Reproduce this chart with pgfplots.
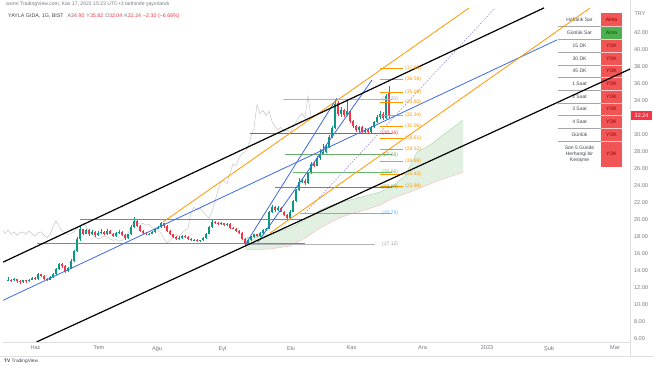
\documentclass[border=0pt]{standalone}
\usepackage{pgfplots}
\pgfplotsset{compat=1.18}
\usepackage{pgfplotstable}
\usepackage{fontspec}
\setmainfont{Liberation Sans}
\definecolor{tvup}{HTML}{089981}
\definecolor{tvdown}{HTML}{F23645}
\definecolor{tvgray}{HTML}{787B86}
\definecolor{tvdark}{HTML}{434651}
\definecolor{tvblue}{HTML}{3D6BE8}
\definecolor{tvorange}{HTML}{FF9800}
\definecolor{tvpurple}{HTML}{9C86D8}
\definecolor{cloudc}{HTML}{E2F0E2}
\definecolor{tabred}{HTML}{F25555}
\definecolor{tabgreen}{HTML}{4CAF50}
\definecolor{levgreen}{HTML}{66BB6A}
\definecolor{levteal}{HTML}{26A69A}
\definecolor{levblue}{HTML}{64B5F6}
\definecolor{levgray}{HTML}{A0A3AB}
\pgfplotstableread{
x o h l c d
8 12.9 13.3 12.8 13.0 1
11 13.0 13.1 12.7 12.9 0
14 12.9 13.2 12.8 13.1 1
17 13.1 13.1 12.6 12.8 0
20 12.8 12.9 12.5 12.7 0
23 12.7 13.0 12.6 12.9 1
26 12.9 13.0 12.6 12.8 0
29 12.8 13.1 12.7 13.0 1
32 13.0 13.3 12.9 13.2 1
35 13.2 13.3 13.0 13.1 0
38 13.1 13.8 13.0 13.6 1
41 13.6 13.7 13.3 13.4 0
44 13.4 13.5 13.0 13.1 0
47 13.1 13.2 12.8 13.0 0
50 13.0 13.4 12.9 13.3 1
53 13.3 13.8 13.2 13.6 1
56 13.6 14.4 13.5 14.2 1
59 14.2 15.0 14.1 14.8 1
62 14.8 14.9 14.4 14.6 0
65 14.6 14.7 13.8 14.0 0
68 14.0 14.5 13.9 14.3 1
71 14.3 15.4 14.2 15.2 1
74 15.2 16.5 15.1 16.3 1
77 16.3 18.0 16.2 17.8 1
80 17.8 19.4 17.5 18.9 1
83 18.9 19.0 18.2 18.4 0
86 18.4 19.0 18.3 18.8 1
89 18.8 18.9 18.1 18.3 0
92 18.3 18.8 18.2 18.6 1
95 18.6 18.7 18.0 18.2 0
98 18.2 18.7 18.1 18.5 1
101 18.5 18.9 18.3 18.6 1
104 18.6 18.7 18.2 18.3 0
107 18.3 18.9 18.2 18.7 1
110 18.7 18.8 18.3 18.4 0
113 18.4 18.5 18.0 18.1 0
116 18.1 18.6 18.0 18.5 1
119 18.5 18.8 18.4 18.6 1
122 18.6 18.7 18.1 18.2 0
125 18.2 18.3 17.7 17.9 0
128 17.9 18.4 17.8 18.3 1
131 18.3 19.4 18.2 19.2 1
134 19.2 20.4 19.1 19.9 1
137 19.9 20.1 19.2 19.3 0
140 19.3 19.4 18.6 18.7 0
143 18.7 18.8 18.3 18.5 0
146 18.5 18.6 18.2 18.3 0
149 18.3 18.5 18.2 18.4 1
152 18.4 18.7 18.3 18.6 1
155 18.6 19.1 18.5 19.0 1
158 19.0 19.3 18.9 19.2 1
161 19.2 19.8 19.1 19.6 1
164 19.6 19.7 19.1 19.3 0
167 19.3 19.4 18.6 18.7 0
170 18.7 18.8 18.2 18.3 0
173 18.3 18.4 17.9 18.0 0
176 18.0 18.1 17.7 17.8 0
179 17.8 18.1 17.7 17.9 1
182 17.9 18.2 17.8 18.1 1
185 18.1 18.2 17.9 18.0 0
188 18.0 18.1 17.7 17.8 0
191 17.8 17.9 17.5 17.6 0
194 17.6 17.8 17.5 17.7 1
197 17.7 17.8 17.4 17.5 0
200 17.5 17.7 17.4 17.6 1
203 17.6 18.0 17.5 17.9 1
206 17.9 18.5 17.8 18.4 1
209 18.4 19.3 18.3 19.2 1
212 19.2 20.0 19.1 19.8 1
215 19.8 19.9 19.5 19.7 0
218 19.7 19.8 19.4 19.5 0
221 19.5 19.8 19.4 19.6 1
224 19.6 19.7 19.3 19.4 0
227 19.4 19.6 19.3 19.5 1
230 19.5 19.6 19.0 19.1 0
233 19.1 19.2 18.9 19.0 0
236 19.0 19.1 18.6 18.7 0
239 18.7 18.8 18.4 18.5 0
242 18.5 18.6 17.6 17.8 0
245 17.8 17.9 17.12 17.3 0
248 17.3 17.7 17.2 17.6 1
251 17.6 18.1 17.5 18.0 1
254 18.0 18.4 17.9 18.3 1
257 18.3 18.4 18.0 18.1 0
260 18.1 18.6 18.0 18.5 1
263 18.5 18.9 18.4 18.8 1
266 18.8 19.1 18.7 19.0 1
269 19.0 21.1 18.9 20.9 1
272 20.9 21.8 20.8 21.5 1
275 21.5 21.6 21.0 21.2 0
278 21.2 21.6 21.1 21.4 1
281 21.4 21.5 20.9 21.0 0
284 21.0 21.1 20.5 20.6 0
287 20.6 20.7 19.9 20.2 0
290 20.2 21.2 20.1 21.0 1
293 21.0 22.4 20.9 22.2 1
296 22.2 23.7 22.1 23.5 1
299 23.5 25.0 23.4 24.5 1
302 24.5 24.9 24.3 24.6 1
305 24.6 24.8 24.1 24.3 0
308 24.3 25.7 24.2 25.5 1
311 25.5 26.8 25.4 26.6 1
314 26.6 26.9 26.2 26.4 0
317 26.4 27.5 26.3 27.3 1
320 27.3 28.3 27.1 27.8 1
323 27.8 28.9 27.6 28.0 1
326 28.0 28.9 27.9 28.6 1
329 28.6 30.0 28.5 29.8 1
332 29.8 31.1 29.7 30.8 1
335 30.8 34.2 30.7 33.6 1
338 33.8 34.0 32.2 32.5 0
341 32.5 33.3 32.1 32.9 1
344 32.9 33.1 32.1 32.3 0
347 32.3 34.1 32.2 32.8 1
350 32.8 32.9 31.4 31.6 0
353 31.6 31.8 30.8 31.0 0
356 31.0 31.2 30.4 30.6 0
359 30.6 31.1 30.4 30.9 1
362 30.9 31.0 30.2 30.4 0
365 30.4 30.8 30.2 30.6 1
368 30.6 30.7 30.16 30.3 0
371 30.3 31.0 30.2 30.9 1
374 30.9 31.7 30.8 31.5 1
377 31.5 32.3 31.4 32.1 1
380 32.1 32.8 31.9 32.5 1
383 32.5 32.7 31.8 32.0 0
386 32.0 34.8 31.9 34.6 1
389 34.90 35.82 32.04 32.24 0
}\ohlc
\begin{document}
\begin{tikzpicture}
\path[use as bounding box] (0pt,0pt) rectangle (654pt,366pt);
\fill[white] (0pt,0pt) rectangle (654pt,366pt);
% header
\node[anchor=west, inner sep=0pt, font=\fontsize{5.1}{6}\selectfont, text=tvgray] at (6pt,362pt) {asmn TradingView.com, Kas 17, 2022 15:23 UTC+3 tarihinde yayınlandı};
\node[anchor=west, inner sep=0pt, font=\fontsize{5.3}{6}\selectfont] at (8pt,350pt) {\color{tvdark}YAYLA GIDA, 1G, BIST\hspace{4pt}\color{tvgray}A\color{tvdown}34.90\hspace{2pt}\color{tvgray}Y\color{tvdown}35.82\hspace{2pt}\color{tvgray}D\color{tvdown}32.04\hspace{2pt}\color{tvgray}K\color{tvdown}32.24\hspace{2pt}−2.30 (−6.66\%)};
% footer
\node[anchor=west, inner sep=0pt, font=\fontsize{4.8}{5}\selectfont, text=tvdark] at (4pt,5pt) {\textbf{TV} TradingView};
% frame
\draw[black!12, line width=0.5pt] (630pt,10pt) -- (630pt,366pt);
\draw[black!12, line width=0.5pt] (0pt,10pt) -- (654pt,10pt);
% table
\fill[white] (558pt,199pt) rectangle (601pt,353pt);
\fill[tabred] (601pt,199pt) rectangle (622pt,353pt);
\fill[tabgreen] (601pt,327pt) rectangle (622pt,340pt);
\foreach \yy in {340,327,314,301,289,276,263,251,238,225}{
  \draw[black!35, line width=0.4pt] (558pt,\yy pt) -- (601pt,\yy pt);
  \draw[white!70!tabred, line width=0.3pt] (601pt,\yy pt) -- (622pt,\yy pt);
}
\begin{scope}[font=\fontsize{5}{6}\selectfont, text=tvdark]
\node at (579.5pt,346.5pt) {Haftalık Sar};
\node at (579.5pt,333.5pt) {Günlük Sar};
\node at (579.5pt,320.5pt) {15 DK};
\node at (579.5pt,307.5pt) {30 DK};
\node at (579.5pt,295pt) {45 DK};
\node at (579.5pt,282.5pt) {1 Saat};
\node at (579.5pt,269.5pt) {2 Saat};
\node at (579.5pt,257pt) {3 Saat};
\node at (579.5pt,244.5pt) {4 Saat};
\node at (579.5pt,231.5pt) {Günlük};
\node[align=center] at (579.5pt,212pt) {Son 5 Günde\\Herhangi bir\\Kesişme};
\end{scope}
\begin{scope}[font=\fontsize{5}{6}\selectfont, text=red!55!black]
\node at (611.5pt,346.5pt) {Alma};
\node[text=green!35!black] at (611.5pt,333.5pt) {Alma};
\foreach \yy in {320.5,307.5,295,282.5,269.5,257,244.5,231.5,212}{\node at (611.5pt,\yy pt) {YOK};}
\end{scope}
\begin{axis}[
  at={(3pt,24pt)}, anchor=south west, scale only axis,
  width=627pt, height=334pt,
  xmin=3, xmax=630, ymin=5.65, ymax=44.94,
  axis x line*=bottom, axis y line*=right,
  axis line style={draw=black!12, line width=0.5pt},
  xtick={35.5,99,157,222.6,291,351.5,422.6,487,549,615},
  xticklabels={Haz,Tem,Ağu,Eyl,Eki,Kas,Ara,2023,Şub,Mar},
  ytick={6,8,10,12,14,16,18,20,22,24,26,28,30,34,36,38,40,42},
  yticklabel pos=right,
  major tick length=0pt,
  /pgf/number format/assume math mode=true,
  yticklabel={\pgfmathprintnumber[fixed,fixed zerofill,precision=2]{\tick}},
  ticklabel style={font=\fontsize{5.6}{6}\selectfont, text=tvgray},
  xticklabel style={yshift=-0.5pt},
  yticklabel style={xshift=0.5pt},
  candle/.style={draw=none, mark=none, error bars/.cd, y dir=plus, y explicit, error mark=none},
]
% ichimoku cloud
\addplot[fill=cloudc, draw=none] coordinates {(245,17.88)(270,18.35)(290,19.06)(305,20.0)(320,21.18)(335,21.88)(350,22.35)(365,22.82)(380,23.29)(393,24.0)(405,25.18)(417,28.0)(430,28.82)(447,30.35)(463,31.76)(463,25.65)(455,25.29)(440,24.71)(425,24.0)(410,23.29)(393,22.59)(380,21.76)(365,21.18)(350,20.71)(335,20.0)(320,19.06)(305,17.88)(290,16.94)(270,16.59)(245,16.47)};
\addplot[levgreen!60, line width=0.4pt] coordinates {(245,17.88)(270,18.35)(290,19.06)(305,20.0)(320,21.18)(335,21.88)(350,22.35)(365,22.82)(380,23.29)(393,24.0)(405,25.18)(417,28.0)(430,28.82)(447,30.35)(463,31.76)};
\addplot[tvdown!35, line width=0.4pt] coordinates {(245,16.47)(270,16.59)(290,16.94)(305,17.88)(320,19.06)(335,20.0)(350,20.71)(365,21.18)(380,21.76)(393,22.59)(410,23.29)(425,24.0)(440,24.71)(455,25.29)(463,25.65)};
% lagging span
\addplot[levgray!70, line width=0.4pt] table[x expr=\thisrow{x}-78, y=c] {\ohlc};
% candles
\addplot[candle, error bar style={draw=tvup, line width=0.5pt}] table[x=x, y=l, y error plus expr={\thisrow{d}*(\thisrow{h}-\thisrow{l})}] {\ohlc};
\addplot[candle, error bar style={draw=tvdown, line width=0.5pt}] table[x=x, y=l, y error plus expr={(1-\thisrow{d})*(\thisrow{h}-\thisrow{l})}] {\ohlc};
\addplot[candle, error bar style={draw=tvup, line width=2pt}] table[x=x, y=o, y error plus expr={\thisrow{d}*(\thisrow{c}-\thisrow{o})}] {\ohlc};
\addplot[candle, error bar style={draw=tvdown, line width=2pt}] table[x=x, y=c, y error plus expr={(1-\thisrow{d})*(\thisrow{o}-\thisrow{c})}] {\ohlc};
% red range lines
\addplot[tvdown!85, line width=0.7pt] coordinates {(80,20.06)(303,20.06)};
\addplot[tvdown!85, line width=0.7pt] coordinates {(37,17.2)(305,17.2)};
% horizontal levels
\addplot[levgray!80, line width=0.5pt] coordinates {(283,34.20)(392,34.20)};
\addplot[tvdown, line width=0.6pt] coordinates {(250,30.16)(392,30.16)};
\addplot[levgreen!70!gray, line width=0.5pt] coordinates {(285,27.68)(392,27.68)};
\addplot[levgreen, line width=0.5pt] coordinates {(293,25.66)(392,25.66)};
\addplot[levteal, line width=0.5pt] coordinates {(275,23.84)(392,23.84)};
\addplot[levblue, line width=0.6pt] coordinates {(300,20.79)(392,20.79)};
\addplot[levgray!80, line width=0.5pt] coordinates {(245,17.12)(375,17.12)};
% fib ticks
\addplot[tvorange, line width=0.5pt, unbounded coords=jump] coordinates {(380,37.86)(403,37.86)(390,nan)(380,36.58)(403,36.58)(390,nan)(380,35.08)(403,35.08)(390,nan)(380,33.80)(403,33.80)(390,nan)(380,32.34)(403,32.34)(390,nan)(380,31.06)(403,31.06)(390,nan)(380,29.61)(403,29.61)(390,nan)(380,28.32)(403,28.32)(390,nan)(380,26.86)(403,26.86)(390,nan)(380,25.42)(403,25.42)(390,nan)(380,23.98)(403,23.98)};
% trend lines
\addplot[tvblue, line width=0.8pt] coordinates {(3,10.55)(557,41.19)};
\addplot[tvblue, line width=0.8pt] coordinates {(245,17.06)(337,34.35)};
\addplot[tvblue, line width=0.8pt] coordinates {(258,17.41)(372,36.47)};
\addplot[tvpurple, line width=0.6pt, dash pattern=on 1.5pt off 1.5pt] coordinates {(305,20.82)(495,44.94)};
\addplot[tvorange, line width=0.8pt] coordinates {(163,19.76)(469,44.94)};
\addplot[tvorange, line width=0.8pt] coordinates {(270,18.47)(590,44.94)};
\addplot[black, line width=1.2pt] coordinates {(3,15.04)(544,44.95)};
\addplot[black, line width=1.2pt] coordinates {(36.5,5.65)(630,37.76)};
% level labels
\begin{scope}[font=\fontsize{5}{6}\selectfont, inner sep=0pt, anchor=west]
\node[text=levgray] at (axis cs:382,34.20) {(34.20)};
\node[text=tvdown] at (axis cs:382,30.16) {(30.16)};
\node[text=levgreen!70!gray] at (axis cs:382,27.68) {(27.68)};
\node[text=levgreen] at (axis cs:382,25.66) {(25.66)};
\node[text=levteal] at (axis cs:382,23.84) {(23.84)};
\node[text=levblue] at (axis cs:382,20.79) {(20.79)};
\node[text=levgray] at (axis cs:382,17.12) {(17.12)};
\node[text=tvorange] at (axis cs:405,37.86) {(37.86)};
\node[text=tvorange] at (axis cs:405,36.58) {(36.58)};
\node[text=tvorange] at (axis cs:405,35.08) {(35.08)};
\node[text=tvorange] at (axis cs:405,33.80) {(33.80)};
\node[text=tvorange] at (axis cs:405,32.34) {(32.34)};
\node[text=tvorange] at (axis cs:405,31.06) {(31.06)};
\node[text=tvorange] at (axis cs:405,29.61) {(29.61)};
\node[text=tvorange] at (axis cs:405,28.32) {(28.32)};
\node[text=tvorange] at (axis cs:405,26.86) {(26.86)};
\node[text=tvorange] at (axis cs:405,25.42) {(25.42)};
\node[text=tvorange] at (axis cs:405,23.98) {(23.98)};
\end{scope}
\end{axis}
% price label
\fill[tvdown] (631pt,245.5pt) rectangle (652pt,254.5pt);
\node[font=\fontsize{5.4}{6}\selectfont, text=white, inner sep=0pt] at (641.5pt,250pt) {32.24};
\node[font=\fontsize{5.4}{6}\selectfont, text=tvgray, inner sep=0pt] at (640pt,352pt) {TRY};
\end{tikzpicture}
\end{document}
